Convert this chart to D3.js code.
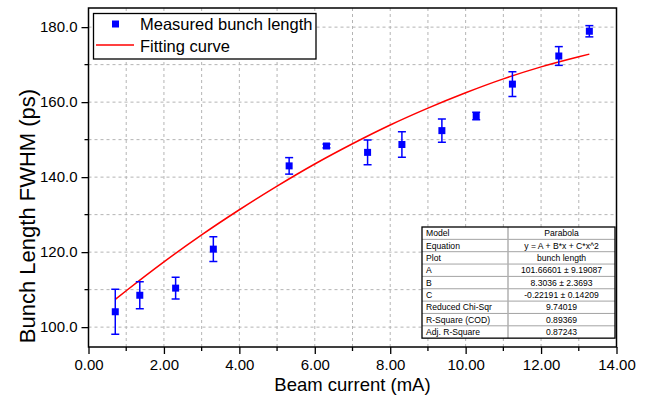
<!DOCTYPE html>
<html>
<head>
<meta charset="utf-8">
<script src="https://cdn.jsdelivr.net/npm/d3@7"></script>
<style>
  body { margin: 0; background: #fff; }
  text { font-family: Arial, "Liberation Sans", sans-serif; }
</style>
</head>
<body>
<svg id="chart" width="647" height="403"></svg>
<script>
const width = 647;
const height = 403;

// measured points (beam current in mA, bunch length in ps, error bar half height)
const current = [0.71, 1.36, 2.31, 3.31, 5.32, 6.31, 7.40, 8.31, 9.37, 10.28, 11.24, 12.47, 13.28];
const bunchLength = [104.1, 108.5, 110.4, 120.8, 143.0, 148.3, 146.6, 148.7, 152.4, 156.3, 164.8, 172.3, 178.9];
const bunchError = [6.0, 3.6, 2.9, 3.3, 2.2, 0.5, 3.3, 3.4, 3.1, 1.0, 3.3, 2.5, 1.5];

// fitting curve
const fitX = [0.71, 1, 2, 3, 4, 5, 6, 7, 8, 9, 10, 11, 12, 13, 13.28];
const fitY = [107.4, 109.7, 117.4, 124.6, 131.3, 137.6, 143.5, 148.9, 153.9, 158.4, 162.5, 166.2, 169.4, 172.1, 172.8];

// ticks
const xTicks = [0, 2, 4, 6, 8, 10, 12, 14];
const xMinor = [1, 3, 5, 7, 9, 11, 13];
const yTicks = [100, 120, 140, 160, 180];
const yMinor = [110, 130, 150, 170];

// fit result table
const tableLabels = ["Model", "Equation", "Plot", "A", "B", "C", "Reduced Chi-Sqr", "R-Square (COD)", "Adj. R-Square"];
const tableValues = ["Parabola", "y = A + B*x + C*x^2", "bunch length", "101.66601 \u00b1 9.19087",
    "8.3036 \u00b1 2.3693", "-0.22191 \u00b1 0.14209", "9.74019", "0.89369", "0.87243"];

const margin = { top: 8, right: 30.5, bottom: 56, left: 88.5 };

const svg = d3.select("#chart");

const x = d3.scaleLinear().domain([0, 14]).range([margin.left, width - margin.right]);
const y = d3.scaleLinear().domain([94.7, 185.1]).range([height - margin.bottom, margin.top]);

const pts = current.map((c, i) => ({ x: c, y: bunchLength[i], e: bunchError[i] }));
const fit = fitX.map((v, i) => ({ x: v, y: fitY[i] }));

// dashed grid, every minor step
const grid = svg.append("g").attr("stroke", "#b4b4b4").attr("stroke-dasharray", "3,3").attr("stroke-width", 1);
grid.selectAll(".gx")
    .data(xTicks.concat(xMinor).filter(d => d > 0 && d < 14))
    .join("line")
    .attr("x1", d => x(d)).attr("x2", d => x(d))
    .attr("y1", y.range()[0]).attr("y2", y.range()[1]);
grid.selectAll(".gy")
    .data(yTicks.concat(yMinor))
    .join("line")
    .attr("x1", x.range()[0]).attr("x2", x.range()[1])
    .attr("y1", d => y(d)).attr("y2", d => y(d));

// axes
const xAxis = svg.append("g")
    .attr("transform", `translate(0,${y.range()[0]})`)
    .call(d3.axisBottom(x).tickValues(xTicks).tickSize(7).tickPadding(5).tickFormat(d3.format(".2f")));
xAxis.append("g").selectAll("line")
    .data(xMinor)
    .join("line")
    .attr("x1", d => x(d)).attr("x2", d => x(d))
    .attr("y1", 0).attr("y2", 4)
    .attr("stroke", "#000");

const yAxis = svg.append("g")
    .attr("transform", `translate(${x.range()[0]},0)`)
    .call(d3.axisLeft(y).tickValues(yTicks).tickSize(7).tickPadding(4).tickFormat(d3.format(".1f")));
yAxis.append("g").selectAll("line")
    .data(yMinor)
    .join("line")
    .attr("x1", 0).attr("x2", -4)
    .attr("y1", d => y(d)).attr("y2", d => y(d))
    .attr("stroke", "#000");

[xAxis, yAxis].forEach(a => {
    a.select(".domain").remove();
    a.selectAll("line").attr("stroke-width", 1.3);
    a.selectAll("text").attr("font-size", "15px").attr("fill", "#000");
});

// frame
svg.append("rect")
    .attr("x", x.range()[0]).attr("y", y.range()[1])
    .attr("width", x.range()[1] - x.range()[0])
    .attr("height", y.range()[0] - y.range()[1])
    .attr("fill", "none").attr("stroke", "#000").attr("stroke-width", 1.5);

// fitting curve
svg.append("path")
    .datum(fit)
    .attr("fill", "none")
    .attr("stroke", "#ff0000")
    .attr("stroke-width", 1.5)
    .attr("d", d3.line().x(d => x(d.x)).y(d => y(d.y)).curve(d3.curveMonotoneX));

// error bars
const eb = svg.append("g").attr("stroke", "#0000ff").attr("stroke-width", 1.5);
eb.selectAll(".bar")
    .data(pts)
    .join("line")
    .attr("x1", d => x(d.x)).attr("x2", d => x(d.x))
    .attr("y1", d => y(d.y - d.e)).attr("y2", d => y(d.y + d.e));
eb.selectAll(".capTop")
    .data(pts)
    .join("line")
    .attr("x1", d => x(d.x) - 4).attr("x2", d => x(d.x) + 4)
    .attr("y1", d => y(d.y + d.e)).attr("y2", d => y(d.y + d.e));
eb.selectAll(".capBot")
    .data(pts)
    .join("line")
    .attr("x1", d => x(d.x) - 4).attr("x2", d => x(d.x) + 4)
    .attr("y1", d => y(d.y - d.e)).attr("y2", d => y(d.y - d.e));

// markers
svg.selectAll(".pt")
    .data(pts)
    .join("rect")
    .attr("class", "pt")
    .attr("x", d => x(d.x) - 3.5).attr("y", d => y(d.y) - 3.5)
    .attr("width", 7).attr("height", 7)
    .attr("fill", "#0000ff");

// legend
const lg = svg.append("g");
lg.append("rect")
    .attr("x", 93.5).attr("y", 13.5).attr("width", 222.5).attr("height", 45.5)
    .attr("fill", "#fff").attr("stroke", "#000").attr("stroke-width", 1.3);
lg.append("rect").attr("x", 112).attr("y", 20.5).attr("width", 7).attr("height", 7).attr("fill", "#0000ff");
lg.append("line").attr("x1", 96).attr("x2", 134).attr("y1", 45).attr("y2", 45)
    .attr("stroke", "#ff0000").attr("stroke-width", 1.5);
lg.append("text").attr("x", 140).attr("y", 30).attr("font-size", "16.5px").text("Measured bunch length");
lg.append("text").attr("x", 140).attr("y", 51.5).attr("font-size", "16.5px").text("Fitting curve");

// fit result table
const tb = { x: 422, y: 227, w: 193, rowH: 12.35, split: 508 };
const tg = svg.append("g");
tg.append("rect")
    .attr("x", tb.x).attr("y", tb.y).attr("width", tb.w).attr("height", tb.rowH * tableLabels.length)
    .attr("fill", "#fff");
tg.selectAll(".rowline")
    .data(d3.range(1, tableLabels.length))
    .join("line")
    .attr("x1", tb.x).attr("x2", tb.x + tb.w)
    .attr("y1", i => tb.y + i * tb.rowH).attr("y2", i => tb.y + i * tb.rowH)
    .attr("stroke", "#8c8c8c").attr("stroke-width", 0.8);
tg.append("line")
    .attr("x1", tb.split).attr("x2", tb.split)
    .attr("y1", tb.y).attr("y2", tb.y + tb.rowH * tableLabels.length)
    .attr("stroke", "#b0b0b0").attr("stroke-width", 1.5);
tg.append("rect")
    .attr("x", tb.x).attr("y", tb.y).attr("width", tb.w).attr("height", tb.rowH * tableLabels.length)
    .attr("fill", "none").attr("stroke", "#000").attr("stroke-width", 1.3);
tg.selectAll(".lab")
    .data(tableLabels)
    .join("text")
    .attr("x", tb.x + 4)
    .attr("y", (d, i) => tb.y + (i + 1) * tb.rowH - 3)
    .attr("font-size", "8.6px")
    .text(d => d);
tg.selectAll(".val")
    .data(tableValues)
    .join("text")
    .attr("x", (tb.split + tb.x + tb.w) / 2)
    .attr("y", (d, i) => tb.y + (i + 1) * tb.rowH - 3)
    .attr("text-anchor", "middle")
    .attr("font-size", "8.6px")
    .text(d => d);

// axis titles
svg.append("text")
    .attr("x", (x.range()[0] + x.range()[1]) / 2)
    .attr("y", 391)
    .attr("text-anchor", "middle")
    .attr("font-size", "18.5px")
    .text("Beam current (mA)");
svg.append("text")
    .attr("transform", "translate(35,216) rotate(-90)")
    .attr("text-anchor", "middle")
    .attr("font-size", "22px")
    .text("Bunch Length FWHM (ps)");
</script>
</body>
</html>
